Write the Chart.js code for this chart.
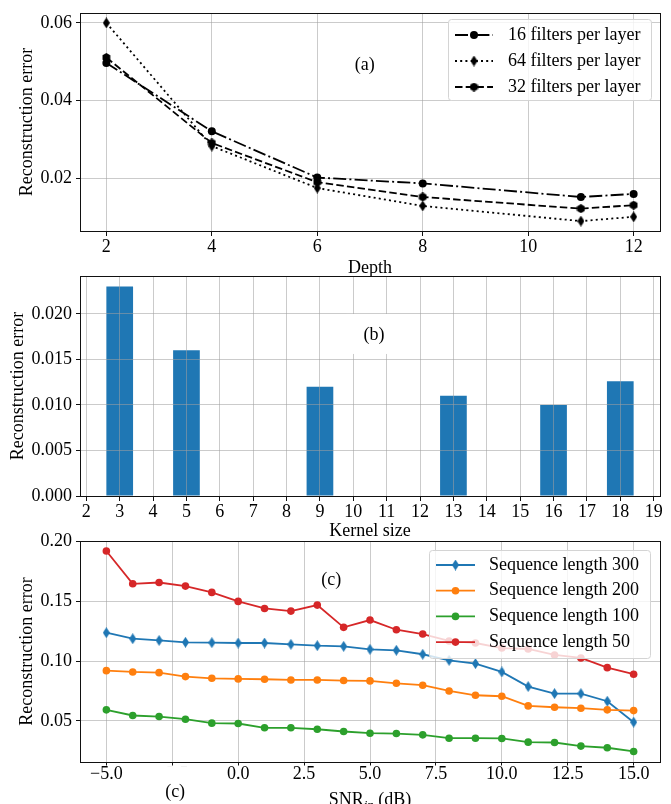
<!DOCTYPE html>
<html>
<head>
<meta charset="utf-8">
<script src="https://cdn.jsdelivr.net/npm/chart.js@4.4.1/dist/chart.umd.min.js"></script>
<style>
  html, body { margin: 0; padding: 0; background: #fff; }
  #wrap { position: relative; width: 671px; height: 804px; overflow: hidden; }
  #wrap canvas { position: absolute; left: 0; top: 0; }
</style>
</head>
<body>
<div id="wrap">
  <canvas id="depthChart" width="671" height="804"></canvas>
  <canvas id="kernelChart" width="671" height="804"></canvas>
  <canvas id="snrChart" width="671" height="804"></canvas>
</div>
<script>
// (a) error vs network depth
const depths = [2, 4, 6, 8, 11, 12];
const err16 = [0.0497, 0.0321, 0.0202, 0.0187, 0.0152, 0.0160];
const err64 = [0.0600, 0.0283, 0.0175, 0.0129, 0.0090, 0.0101];
const err32 = [0.0511, 0.0291, 0.0190, 0.0152, 0.0122, 0.0131];
const depthTicks = [2, 4, 6, 8, 10, 12];
const depthErrTicks = [0.02, 0.04, 0.06];

// (b) error vs kernel size
const kernelSizes = [3, 5, 9, 13, 16, 18];
const kernelErr = [0.0230, 0.0160, 0.0120, 0.0110, 0.0100, 0.0126];
const kernelTicks = [2, 3, 4, 5, 6, 7, 8, 9, 10, 11, 12, 13, 14, 15, 16, 17, 18, 19];
const kernelErrTicks = [0, 0.005, 0.010, 0.015, 0.020];

// (c) error vs input SNR for several sequence lengths
const snrDb = [-5, -4, -3, -2, -1, 0, 1, 2, 3, 4, 5, 6, 7, 8, 9, 10, 11, 12, 13, 14, 15];
const seq300 = [0.1237, 0.1187, 0.1173, 0.1157, 0.1154, 0.1151, 0.1151, 0.1140, 0.1129, 0.1123, 0.1098,
                0.1090, 0.1057, 0.1006, 0.0979, 0.0909, 0.0787, 0.0728, 0.0728, 0.0664, 0.0489];
const seq200 = [0.0920, 0.0909, 0.0903, 0.0870, 0.0856, 0.0851, 0.0848, 0.0842, 0.0842, 0.0837, 0.0834,
                0.0814, 0.0798, 0.0750, 0.0714, 0.0706, 0.0625, 0.0614, 0.0606, 0.0592, 0.0586];
const seq100 = [0.0592, 0.0545, 0.0536, 0.0514, 0.0481, 0.0478, 0.0442, 0.0442, 0.0430, 0.0411, 0.0397,
                0.0394, 0.0383, 0.0355, 0.0355, 0.0353, 0.0322, 0.0319, 0.0289, 0.0275, 0.0244];
const seq50 = [0.1920, 0.1646, 0.1657, 0.1627, 0.1574, 0.1499, 0.1440, 0.1418, 0.1468, 0.1282, 0.1343,
               0.1262, 0.1226, 0.1168, 0.1151, 0.1109, 0.1101, 0.1051, 0.1026, 0.0945, 0.0890];
const snrTicks = [-5, -2.5, 0, 2.5, 5, 7.5, 10, 12.5, 15];
const snrErrTicks = [0.05, 0.10, 0.15, 0.20];

const SERIF = '"Liberation Serif", "Times New Roman", Times, serif';
const FONT = { family: SERIF, size: 18, lineHeight: 1 };
const GRID_COLOR = 'rgba(160, 160, 160, 0.55)';
const SPINE = '#111';
const PAGE_H = 804;
const PLOT_LEFT = 80;
const PLOT_RIGHT = 660;

Chart.defaults.font.family = SERIF;
Chart.defaults.color = '#000';

function thinDiamond(color, w, h) {
    const c = document.createElement('canvas');
    c.width = w; c.height = h;
    const g = c.getContext('2d');
    g.fillStyle = color;
    g.beginPath();
    g.moveTo(w / 2, 0); g.lineTo(w, h / 2); g.lineTo(w / 2, h); g.lineTo(0, h / 2);
    g.closePath();
    g.fill();
    return c;
}

function hexagon(color, d) {
    const c = document.createElement('canvas');
    c.width = d; c.height = d;
    const g = c.getContext('2d');
    const r = d / 2;
    g.fillStyle = color;
    g.beginPath();
    for (let k = 0; k < 6; k++) {
        const ang = Math.PI / 180 * (60 * k - 90);
        const px = r + r * Math.cos(ang), py = r + r * Math.sin(ang);
        if (k) g.lineTo(px, py); else g.moveTo(px, py);
    }
    g.closePath();
    g.fill();
    return c;
}

// linear axis with fixed tick list and fixed thickness so plot areas line up
function axis(o) {
    return {
        type: 'linear',
        min: o.min, max: o.max,
        bounds: 'data', offset: false,
        afterBuildTicks: s => { s.ticks = o.ticks.map(v => ({ value: v })); },
        afterFit: s => { if (s.isHorizontal()) s.height = o.size; else s.width = o.size; },
        ticks: { font: FONT, color: '#000', padding: o.pad, maxRotation: 0, autoSkip: false, callback: o.fmt },
        grid: { color: GRID_COLOR, lineWidth: 1, tickLength: o.tickLen, tickColor: SPINE, tickWidth: 1,
                offset: false, z: o.gridZ || 0 },
        border: { display: false },
        title: o.title ? { display: true, text: o.title, font: FONT, color: '#000', padding: o.titlePad }
                       : { display: false }
    };
}

function padFor(top, bottom, xh) {
    return { left: 0, right: 671 - PLOT_RIGHT, top: top, bottom: PAGE_H - bottom - xh };
}

const minus = s => s.replace('-', '\u2212');

// frame, panel letters, legend box
const panelDecor = {
    id: 'panelDecor',
    beforeDraw(chart) {
        const a = chart.chartArea, ctx = chart.ctx;
        ctx.save();
        ctx.fillStyle = '#fff';
        ctx.fillRect(a.left, a.top, a.right - a.left, a.bottom - a.top);
        ctx.restore();
    },
    afterDraw(chart, args, o) {
        const a = chart.chartArea, ctx = chart.ctx;
        ctx.save();
        ctx.strokeStyle = SPINE;
        ctx.lineWidth = 1;
        ctx.strokeRect(a.left + 0.5, a.top + 0.5, a.right - a.left, a.bottom - a.top);

        ctx.font = '18px ' + SERIF;
        ctx.textBaseline = 'middle';
        ctx.textAlign = 'center';
        (o.texts || []).forEach(t => {
            const x = a.left + t.fx * (a.right - a.left);
            const y = a.bottom - t.fy * (a.bottom - a.top);
            if (t.box) {
                ctx.fillStyle = '#fff';
                ctx.fillRect(x + t.box[0], y + t.box[1], t.box[2], t.box[3]);
            }
            ctx.fillStyle = '#000';
            ctx.fillText(t.text, x, y);
        });

        if (o.snrTitle) {
            const cx = (a.left + a.right) / 2, by = o.snrTitle.y;
            const main = '18px ' + SERIF, sub = 'italic 13px ' + SERIF;
            ctx.textBaseline = 'alphabetic';
            ctx.textAlign = 'left';
            ctx.font = main; const w1 = ctx.measureText('SNR').width, w3 = ctx.measureText(' (dB)').width;
            ctx.font = sub; const w2 = ctx.measureText('in').width;
            let x = cx - (w1 + w2 + w3) / 2;
            ctx.fillStyle = '#000';
            ctx.font = main; ctx.fillText('SNR', x, by); x += w1;
            ctx.font = sub; ctx.fillText('in', x, by + 4); x += w2;
            ctx.font = main; ctx.fillText(' (dB)', x, by);
        }

        const L = o.legend;
        if (L) {
            ctx.beginPath();
            ctx.roundRect(L.x + 0.5, L.y + 0.5, L.w, L.h, 3);
            ctx.fillStyle = 'rgba(255, 255, 255, 0.8)';
            ctx.fill();
            ctx.strokeStyle = '#d4d4d4';
            ctx.lineWidth = 1;
            ctx.stroke();
            ctx.textAlign = 'left';
            ctx.textBaseline = 'middle';
            ctx.font = '18px ' + SERIF;
            chart.data.datasets.forEach((ds, i) => {
                const y = L.rowY + i * L.rowGap;
                ctx.strokeStyle = ds.borderColor;
                ctx.lineWidth = ds.borderWidth;
                ctx.setLineDash(ds.borderDash || []);
                ctx.beginPath();
                ctx.moveTo(L.lineX0, y);
                ctx.lineTo(L.lineX1, y);
                ctx.stroke();
                ctx.setLineDash([]);
                ctx.fillStyle = ds.pointBackgroundColor;
                Chart.helpers.drawPoint(ctx, { pointStyle: ds.pointStyle, radius: ds.pointRadius, borderWidth: 0 },
                                        (L.lineX0 + L.lineX1) / 2, y);
                ctx.fillStyle = '#000';
                ctx.fillText(ds.label, L.textX, y);
            });
        }
        ctx.restore();
    }
};

// ---------- (a) ----------
function depthSeries(label, ys, dash, marker) {
    return {
        label: label,
        data: depths.map((d, i) => ({ x: d, y: ys[i] })),
        borderColor: '#000', backgroundColor: '#000', borderWidth: 1.8, borderDash: dash,
        pointStyle: marker, pointRadius: 4, pointBackgroundColor: '#000', pointBorderColor: '#000',
        pointBorderWidth: 0, tension: 0, fill: false
    };
}

new Chart(document.getElementById('depthChart'), {
    type: 'line',
    data: {
        datasets: [
            depthSeries('16 filters per layer', err16, [13, 3.2, 2, 3.2], 'circle'),
            depthSeries('64 filters per layer', err64, [2, 3.2], thinDiamond('#000', 7, 11)),
            depthSeries('32 filters per layer', err32, [7.5, 3.2], hexagon('#000', 9))
        ]
    },
    options: {
        responsive: false, animation: false, events: [],
        layout: { padding: padFor(10, 231, 46) },
        plugins: {
            legend: { display: false }, tooltip: { enabled: false },
            panelDecor: {
                texts: [{ text: '(a)', fx: 0.491, fy: 0.76 }],
                legend: { x: 448, y: 19, w: 203, h: 81, rowY: 35, rowGap: 26, lineX0: 455, lineX1: 493, textX: 508 }
            }
        },
        scales: {
            x: axis({ min: 1.5, max: 12.5, ticks: depthTicks, fmt: v => String(v), size: 46,
                      pad: 2, tickLen: 5, title: 'Depth', titlePad: 0 }),
            y: axis({ min: 0.00645, max: 0.06255, ticks: depthErrTicks, fmt: v => v.toFixed(2), size: PLOT_LEFT,
                      pad: 4, tickLen: 4, title: 'Reconstruction error', titlePad: 18 })
        }
    },
    plugins: [panelDecor]
});

// ---------- (b) ----------
new Chart(document.getElementById('kernelChart'), {
    type: 'bar',
    data: {
        datasets: [{
            label: 'Kernel size',
            data: kernelSizes.map((k, i) => ({ x: k, y: kernelErr[i] })),
            backgroundColor: '#1f77b4', borderWidth: 0,
            categoryPercentage: 0.8, barPercentage: 1.0
        }]
    },
    options: {
        responsive: false, animation: false, events: [],
        layout: { padding: padFor(276, 496, 44) },
        plugins: {
            legend: { display: false }, tooltip: { enabled: false },
            panelDecor: { texts: [{ text: '(b)', fx: 0.507, fy: 0.732, box: [-28, -21, 42, 40] }] }
        },
        scales: {
            x: axis({ min: 1.81, max: 19.19, ticks: kernelTicks, fmt: v => String(v), size: 44,
                      pad: 2, tickLen: 5, title: 'Kernel size', titlePad: 0, gridZ: 1 }),
            y: axis({ min: 0, max: 0.02415, ticks: kernelErrTicks, fmt: v => v.toFixed(3), size: PLOT_LEFT,
                      pad: 4, tickLen: 4, title: 'Reconstruction error', titlePad: 9, gridZ: 1 })
        }
    },
    plugins: [panelDecor]
});

// ---------- (c) ----------
function snrSeries(label, ys, color, marker, order) {
    return {
        label: label,
        data: snrDb.map((s, i) => ({ x: s, y: ys[i] })),
        borderColor: color, backgroundColor: color, borderWidth: 1.8,
        pointStyle: marker, pointRadius: 3.8, pointBackgroundColor: color, pointBorderColor: color,
        pointBorderWidth: 0, tension: 0, fill: false, order: order
    };
}

new Chart(document.getElementById('snrChart'), {
    type: 'line',
    data: {
        datasets: [
            snrSeries('Sequence length 300', seq300, '#1f77b4', thinDiamond('#1f77b4', 7, 11), 3),
            snrSeries('Sequence length 200', seq200, '#ff7f0e', 'circle', 2),
            snrSeries('Sequence length 100', seq100, '#2ca02c', 'circle', 1),
            snrSeries('Sequence length 50', seq50, '#d62728', 'circle', 0)
        ]
    },
    options: {
        responsive: false, animation: false, events: [],
        layout: { padding: padFor(541, 762, 42) },
        plugins: {
            legend: { display: false }, tooltip: { enabled: false },
            panelDecor: {
                texts: [
                    { text: '(c)', fx: 0.433, fy: 0.824 },
                    { text: '(c)', fx: 0.164, fy: -0.136, box: [-23, -26, 46, 40] }
                ],
                snrTitle: { y: 805 },
                legend: { x: 429, y: 550, w: 221, h: 108, rowY: 565, rowGap: 25.7, lineX0: 436, lineX1: 475, textX: 489 }
            }
        },
        scales: {
            x: axis({ min: -6, max: 16, ticks: snrTicks, fmt: v => minus(v.toFixed(1)), size: 42,
                      pad: 0, tickLen: 3.5 }),
            y: axis({ min: 0.0156, max: 0.2004, ticks: snrErrTicks, fmt: v => v.toFixed(2), size: PLOT_LEFT,
                      pad: 4, tickLen: 4, title: 'Reconstruction error', titlePad: 18 })
        }
    },
    plugins: [panelDecor]
});
</script>
</body>
</html>
